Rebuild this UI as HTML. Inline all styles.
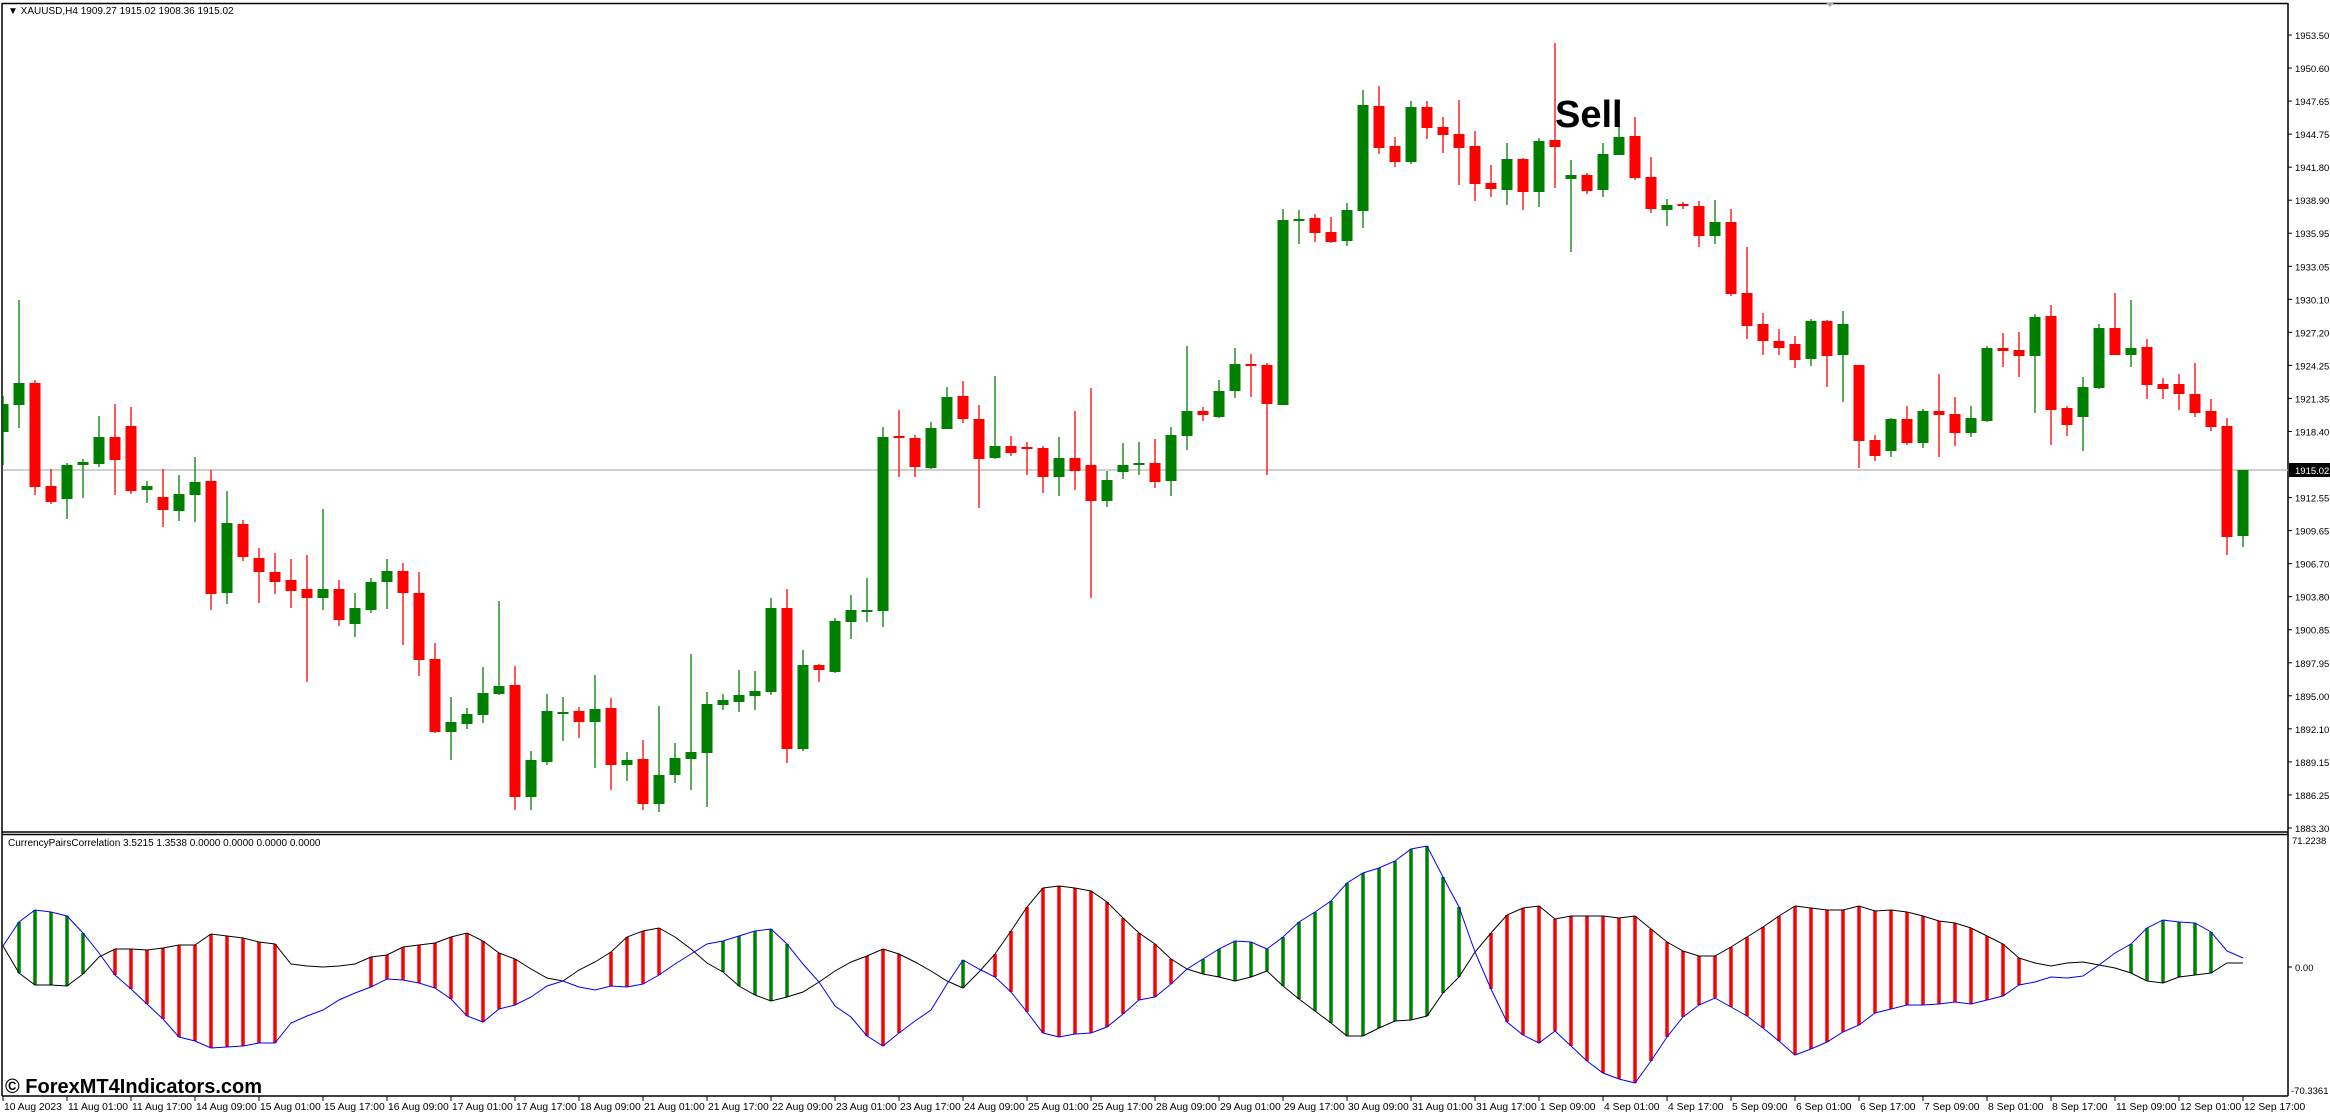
<!DOCTYPE html>
<html><head><meta charset="utf-8">
<style>
html,body{margin:0;padding:0;background:#fff;width:2330px;height:1113px;overflow:hidden}
svg{display:block;font-family:"Liberation Sans",Arial,sans-serif}
</style></head>
<body>
<svg id="s" xmlns="http://www.w3.org/2000/svg" width="2330" height="1113" viewBox="0 0 2330 1113">
<rect width="2330" height="1113" fill="#fff"/>
<g id="frame" fill="none" stroke="#000" stroke-width="1.5">
<line x1="2" y1="3" x2="2" y2="1096"/>
<line x1="2288" y1="3" x2="2288" y2="1096"/>
<line x1="2" y1="3.5" x2="2288" y2="3.5"/>
<line x1="2" y1="832" x2="2288" y2="832"/>
<line x1="2" y1="834.5" x2="2288" y2="834.5"/>
<line x1="2" y1="1096" x2="2288" y2="1096"/>
</g>
<polygon points="1826,3 1834,3 1830,7" fill="#aaa"/>
<line x1="3" y1="470" x2="2288" y2="470" stroke="#c0c0c0" stroke-width="1.5"/>
<g id="candles"></g>
<g id="ind"></g>
<g id="axis" font-size="10.5" fill="#000"></g>
<text x="8" y="14" font-size="10" fill="#000">▼ XAUUSD,H4  1909.27 1915.02 1908.36 1915.02</text>
<text x="8" y="846" font-size="10" fill="#000">CurrencyPairsCorrelation 3.5215 1.3538 0.0000 0.0000 0.0000 0.0000</text>
<text x="1555" y="127" font-size="38" font-weight="bold" fill="#000">Sell</text>
<text x="5" y="1093" font-size="20" font-weight="bold" fill="#000">© ForexMT4Indicators.com</text>
</svg>
<script>
var NS="http://www.w3.org/2000/svg";
function el(p,t,a,txt){var e=document.createElementNS(NS,t);for(var k in a)e.setAttribute(k,a[k]);if(txt!==undefined)e.textContent=txt;p.appendChild(e);return e;}
var C=[[396,404,432,465,'g'],[300,383,405,428,'g'],[380,383,487,495,'r'],[469,486,502,504,'r'],[463,465,499,519,'g'],[459,462,465,498,'g'],[416,437,464,467,'g'],[404,437,460,495,'r'],[407,426,491,494,'r'],[481,486,490,503,'g'],
[469,497,510,527,'r'],[475,494,511,521,'g'],[457,482,495,522,'g'],[470,481,594,610,'r'],[491,523,593,604,'g'],[520,524,557,561,'r'],[548,558,572,603,'r'],[553,572,582,594,'r'],[559,580,591,608,'r'],[555,589,598,682,'r'],
[509,589,598,610,'g'],[580,589,620,626,'r'],[593,608,624,637,'g'],[578,582,610,613,'g'],[559,571,582,609,'g'],[563,571,593,645,'r'],[572,593,660,676,'r'],[643,659,732,733,'r'],[697,722,732,760,'g'],[708,714,724,729,'g'],
[667,693,715,723,'g'],[601,686,694,695,'g'],[666,685,797,810,'r'],[751,760,797,810,'g'],[694,711,762,765,'g'],[697,712,714,741,'g'],[707,711,722,738,'r'],[675,709,722,768,'g'],[698,708,765,790,'r'],[752,760,765,781,'g'],
[740,759,804,810,'r'],[706,775,804,812,'g'],[743,758,775,783,'g'],[654,752,759,790,'g'],[692,704,753,807,'g'],[694,700,705,710,'g'],[670,695,702,712,'g'],[671,691,696,710,'g'],[598,608,692,695,'g'],[589,608,749,763,'r'],
[650,665,749,751,'g'],[664,665,670,682,'r'],[618,621,672,673,'g'],[595,610,622,639,'g'],[578,610,611,622,'g'],[427,437,611,627,'g'],[410,436,438,477,'r'],[435,438,467,477,'r'],[422,428,468,469,'g'],[387,397,429,429,'g'],
[381,396,419,423,'r'],[405,419,459,508,'r'],[376,446,458,459,'g'],[436,446,453,456,'r'],[442,447,448,475,'r'],[446,448,477,493,'r'],[437,458,477,496,'g'],[411,458,471,490,'r'],[388,465,501,598,'r'],[471,480,501,507,'g'],
[443,465,472,479,'g'],[442,463,465,475,'g'],[439,463,482,488,'r'],[427,435,481,496,'g'],[346,411,436,450,'g'],[407,411,415,421,'r'],[380,391,417,418,'g'],[348,364,391,398,'g'],[354,364,366,397,'r'],[363,365,404,475,'r'],
[209,220,405,405,'g'],[210,219,221,244,'g'],[214,218,233,242,'r'],[217,232,242,243,'r'],[203,210,241,246,'g'],[90,105,211,228,'g'],[86,106,148,154,'r'],[137,146,162,167,'r'],[101,107,162,164,'g'],[101,107,128,139,'r'],
[117,127,135,153,'r'],[100,134,148,185,'r'],[131,146,184,201,'r'],[165,183,189,197,'r'],[143,159,190,205,'g'],[158,159,192,210,'r'],[138,141,192,207,'g'],[43,140,147,188,'r'],[160,175,179,252,'g'],[173,175,191,194,'r'],
[143,154,190,197,'g'],[125,137,155,155,'g'],[117,136,178,180,'r'],[157,177,209,213,'r'],[199,205,210,226,'g'],[202,204,205,209,'r'],[201,206,236,247,'r'],[200,222,236,244,'g'],[209,222,294,296,'r'],[247,293,326,339,'r'],
[313,324,341,355,'r'],[329,341,348,355,'r'],[336,344,360,368,'r'],[319,321,359,366,'g'],[320,321,356,387,'r'],[311,324,355,402,'g'],[365,365,441,468,'r'],[435,440,456,461,'r'],[418,419,451,457,'g'],[406,419,443,445,'r'],
[409,411,443,448,'g'],[374,411,415,457,'r'],[397,414,433,446,'r'],[406,418,433,437,'g'],[346,348,421,422,'g'],[333,348,351,367,'r'],[332,350,356,377,'r'],[314,317,356,413,'g'],[305,316,410,445,'r'],[406,408,425,436,'r'],
[377,387,417,451,'g'],[324,328,388,389,'g'],[293,328,355,355,'r'],[300,348,355,367,'g'],[339,347,385,399,'r'],[378,384,389,399,'r'],[374,384,394,410,'r'],[363,394,413,417,'r'],[399,411,427,431,'r'],[418,426,537,555,'r'],
[470,470,536,547,'g']];
var G=document.getElementById('candles');
C.forEach(function(c,k){var x=3+16*k;var col=c[4]=='g'?'#008000':'#ff0000';
 var x0=Math.max(x-5.5,3);
 el(G,'line',{x1:x,y1:c[0],x2:x,y2:c[3],stroke:col,'stroke-width':1.3});
 el(G,'rect',{x:x0,y:c[1],width:(x+5.5)-x0,height:Math.max(c[2]-c[1],2),fill:col});
});
var B=[946,973,985,985,986,974,957,949,949,950,948,945,945,934,936,938,942,944,964,966,967,966,964,957,955,947,945,943,937,933,941,953,959,969,978,981,970,962,952,937,931,928,937,949,963,972,986,995,1001,997,992,982,971,962,956,949,954,962,971,981,988,972,954,931,907,888,886,888,891,902,918,933,944,959,969,974,977,981,977,971,986,999,1011,1023,1036,1036,1028,1021,1020,1016,993,977,952,933,915,908,906,919,916,916,916,918,916,929,942,951,956,956,947,937,927,916,906,908,910,910,906,911,910,912,916,921,923,928,936,944,958,963,966,963,962,965,968,973,981,983,977,975,973,963,963];
var L=[946,922,910,912,916,933,953,975,989,1004,1019,1037,1041,1048,1047,1046,1043,1043,1023,1016,1010,1000,993,987,979,980,983,988,999,1016,1022,1009,1005,997,986,981,987,990,986,987,984,975,964,954,944,941,936,931,929,944,964,982,1006,1017,1036,1046,1033,1021,1010,984,960,969,977,992,1012,1033,1037,1034,1033,1027,1014,1000,997,984,969,959,949,941,942,949,937,922,912,901,883,873,868,861,849,846,877,907,952,989,1022,1035,1043,1031,1046,1061,1073,1079,1083,1061,1037,1017,1005,998,1007,1016,1028,1041,1055,1049,1042,1032,1025,1013,1009,1005,1005,1004,1002,1004,1000,996,985,982,977,978,976,965,953,944,928,920,922,923,932,951,958];
var bars=[[1,5],[7,17],[23,32],[38,41],[45,49],[54,56],[60,60],[62,73],[75,91],[93,126],[133,138]];
var I=document.getElementById('ind');
bars.forEach(function(r){for(var k=r[0];k<=r[1];k++){var x=3+16*k;var col=L[k]<B[k]?'#008000':'#ff0000';
 el(I,'line',{x1:x,y1:B[k],x2:x,y2:L[k],stroke:col,'stroke-width':3.5});}});
var pb='',pl='';
for(var k=0;k<B.length;k++){var x=3+16*k;pb+=x+','+B[k]+' ';pl+=x+','+L[k]+' ';}
el(I,'polyline',{points:pb,fill:'none',stroke:'#000','stroke-width':1});
el(I,'polyline',{points:pl,fill:'none',stroke:'#0000ff','stroke-width':1});
var A=document.getElementById('axis');
var prices=['1953.50','1950.60','1947.65','1944.75','1941.80','1938.90','1935.95','1933.05','1930.10','1927.20','1924.25','1921.35','1918.40','1915.50','1912.55','1909.65','1906.70','1903.80','1900.85','1897.95','1895.00','1892.10','1889.15','1886.25','1883.30'];
prices.forEach(function(p,i){var y=35+i*33.04;if(i==13)return;
 el(A,'line',{x1:2288,y1:y,x2:2292,y2:y,stroke:'#000','stroke-width':1});
 el(A,'text',{x:2295,y:y+4,'font-size':9.5},p);});
el(A,'rect',{x:2289,y:463,width:41,height:14,fill:'#000'});
el(A,'text',{x:2295,y:474,'font-size':9.5,fill:'#fff'},'1915.02');
el(A,'text',{x:2292,y:844,'font-size':9.5},'71.2238');
el(A,'line',{x1:2288,y1:967,x2:2292,y2:967,stroke:'#000'});
el(A,'text',{x:2295,y:971,'font-size':9.5},'0.00');
el(A,'text',{x:2291,y:1094,'font-size':9.5},'-70.3361');
var t=['10 Aug 2023','11 Aug 01:00','11 Aug 17:00','14 Aug 09:00','15 Aug 01:00','15 Aug 17:00','16 Aug 09:00','17 Aug 01:00','17 Aug 17:00','18 Aug 09:00','21 Aug 01:00','21 Aug 17:00','22 Aug 09:00','23 Aug 01:00','23 Aug 17:00','24 Aug 09:00','25 Aug 01:00','25 Aug 17:00','28 Aug 09:00','29 Aug 01:00','29 Aug 17:00','30 Aug 09:00','31 Aug 01:00','31 Aug 17:00','1 Sep 09:00','4 Sep 01:00','4 Sep 17:00','5 Sep 09:00','6 Sep 01:00','6 Sep 17:00','7 Sep 09:00','8 Sep 01:00','8 Sep 17:00','11 Sep 09:00','12 Sep 01:00','12 Sep 17:00'];
t.forEach(function(s,i){var x=3+64*i;
 el(A,'line',{x1:x,y1:1096,x2:x,y2:1101,stroke:'#000','stroke-width':1});
 el(A,'text',{x:x+1,y:1110,'font-size':10.3},s);});
</script>
</body></html>
